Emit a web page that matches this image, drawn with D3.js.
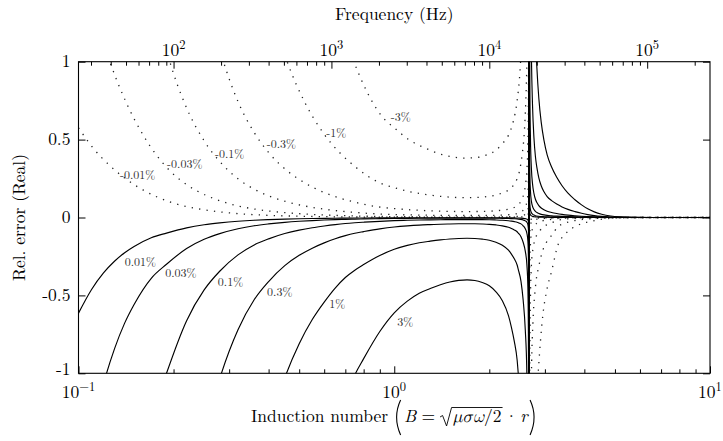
<!DOCTYPE html>
<html><head><meta charset="utf-8">
<script src="https://cdn.jsdelivr.net/npm/d3@7"></script>
<style>
body{margin:0;background:#fff;}
svg{display:block;background:#fff;}
text{font-family:"Latin Modern Roman","Times New Roman",serif;fill:#000;}
</style>
</head><body>
<svg id="chart" width="723" height="441"></svg>
<script>
// ---------- DATA ----------
// induction number B samples for the solid (positive error level) curves
const bSolid = [0.1,0.11,0.12,0.13,0.14,0.15,0.17,0.19,0.22,0.25,0.28,0.32,0.36,0.40,0.45,0.50,0.55,0.60,0.65,0.70,0.75,0.80,0.90,1.0,1.1,1.2,1.3,1.4,1.5,1.6,1.7,1.8,1.9,2.0,2.1,2.2,2.3,2.35,2.4,2.45,2.47,2.52,2.56,2.60,2.63,2.65,2.66,2.665,2.668,2.6695,
  2.6705,2.672,2.675,2.68,2.69,2.70,2.72,2.74,2.77,2.80,2.83,2.87,2.92,2.98,3.05,3.15,3.27,3.40,3.55,3.735,3.92,4.10,4.30,4.54,4.85,5.2,5.7,6.5,8.0,10];
const solid001 = [-0.614,-0.462,-0.356,-0.281,-0.226,-0.186,-0.13,-0.1,-0.0662,-0.0465,-0.0345,-0.024,-0.0176,-0.0137,-0.0103,-0.0081,-0.0066,-0.0054,-0.0045,-0.0039,-0.0034,-0.003,-0.0024,-0.002,-0.0018,-0.0016,-0.0015,-0.0014,-0.0014,-0.0013,-0.0013,-0.0013,-0.0014,-0.0015,-0.0016,-0.0018,-0.0021,-0.0024,-0.0027,-0.0031,-0.0033,-0.0041,-0.0053,-0.0072,-0.01,-0.015,-0.025,-0.05,-0.15,-1.5,
  1.5,0.255,0.102,0.051,0.0255,0.017,0.0102,0.0073,0.0051,0.0039,0.0032,0.0026,0.002,0.0017,0.0013,0.0011,0.0009,0.0007,0.0005,0.0004,0.0003,0.0002,0.0001,0.0001,0,0,0,0,0,0];
const solid003 = [-1.842,-1.386,-1.068,-0.843,-0.678,-0.558,-0.39,-0.3,-0.199,-0.14,-0.1035,-0.072,-0.0528,-0.0411,-0.0309,-0.0243,-0.0197,-0.0163,-0.0136,-0.0116,-0.0101,-0.0091,-0.0073,-0.0061,-0.0054,-0.0049,-0.0046,-0.0043,-0.0041,-0.004,-0.004,-0.004,-0.0042,-0.0044,-0.0048,-0.0053,-0.0063,-0.0071,-0.008,-0.0092,-0.01,-0.0123,-0.0159,-0.0216,-0.03,-0.045,-0.075,-0.15,-0.45,-4.5,
  4.5,0.765,0.306,0.153,0.0765,0.051,0.0306,0.0219,0.0153,0.0117,0.0096,0.0077,0.0061,0.005,0.004,0.0032,0.0026,0.002,0.0016,0.0011,0.0008,0.0006,0.0004,0.0002,0.0001,0,0,0,0,0];
const solid01 = [-6.14,-4.62,-3.56,-2.81,-2.26,-1.86,-1.3,-1.0,-0.662,-0.465,-0.345,-0.24,-0.176,-0.137,-0.103,-0.081,-0.0655,-0.0543,-0.0453,-0.0385,-0.0338,-0.0302,-0.0244,-0.0204,-0.0179,-0.0162,-0.0152,-0.0144,-0.0138,-0.0135,-0.0134,-0.0135,-0.0139,-0.0146,-0.0159,-0.0178,-0.021,-0.0235,-0.0265,-0.0305,-0.0333,-0.041,-0.053,-0.072,-0.1,-0.15,-0.25,-0.5,-1.5,-15,
  15,2.55,1.02,0.51,0.255,0.17,0.102,0.073,0.051,0.039,0.032,0.0255,0.0204,0.0165,0.0134,0.0108,0.0086,0.0068,0.0052,0.0038,0.0027,0.0019,0.0012,0.0007,0.0003,0.0001,0,0,0,0];
const solid03 = [-18.4,-13.9,-10.7,-8.43,-6.78,-5.58,-3.9,-3.0,-1.99,-1.4,-1.035,-0.72,-0.528,-0.411,-0.309,-0.243,-0.197,-0.163,-0.136,-0.116,-0.101,-0.0906,-0.0732,-0.0612,-0.0537,-0.0486,-0.0456,-0.0432,-0.0414,-0.0404,-0.04,-0.0404,-0.0417,-0.0438,-0.0477,-0.0534,-0.063,-0.0705,-0.0795,-0.0915,-0.1,-0.123,-0.159,-0.216,-0.3,-0.45,-0.75,-1.5,-4.5,-45,
  45,7.65,3.06,1.53,0.765,0.51,0.306,0.219,0.153,0.117,0.096,0.0765,0.0612,0.0495,0.0402,0.0324,0.0258,0.0204,0.0156,0.0114,0.0081,0.0056,0.0036,0.0021,0.001,0.0004,0.0001,0,0,0];
const solid1 = [-61.4,-46.2,-35.6,-28.1,-22.6,-18.6,-13,-10,-6.62,-4.65,-3.45,-2.4,-1.76,-1.37,-1.03,-0.81,-0.655,-0.543,-0.453,-0.385,-0.338,-0.302,-0.244,-0.204,-0.179,-0.162,-0.152,-0.144,-0.138,-0.1345,-0.1335,-0.1345,-0.139,-0.146,-0.159,-0.178,-0.21,-0.235,-0.265,-0.305,-0.333,-0.41,-0.53,-0.72,-1.0,-1.5,-2.5,-5,-15,-150,
  150,25.5,10.2,5.1,2.55,1.7,1.02,0.73,0.51,0.39,0.32,0.255,0.204,0.165,0.134,0.108,0.086,0.068,0.052,0.038,0.027,0.0185,0.012,0.007,0.0033,0.0014,0.0004,0.0001,0,0];
const solid3 = [-184,-139,-107,-84.3,-67.8,-55.8,-39,-30,-19.9,-14,-10.4,-7.2,-5.28,-4.11,-3.09,-2.43,-1.97,-1.63,-1.36,-1.16,-1.01,-0.906,-0.732,-0.612,-0.537,-0.486,-0.456,-0.432,-0.414,-0.404,-0.4,-0.404,-0.417,-0.438,-0.477,-0.534,-0.63,-0.705,-0.795,-0.915,-1.0,-1.23,-1.59,-2.16,-3,-4.5,-7.5,-15,-45,-450,
  450,76.5,30.6,15.3,7.65,5.1,3.06,2.19,1.53,1.17,0.96,0.765,0.612,0.495,0.402,0.324,0.258,0.204,0.156,0.114,0.081,0.0555,0.036,0.021,0.0099,0.0042,0.0012,0.0002,0,0];

// induction number B samples for the dotted (negative error level) curves
const bDotted = [0.1,0.11,0.126,0.14,0.16,0.194,0.22,0.25,0.287,0.32,0.36,0.40,0.458,0.52,0.60,0.68,0.746,0.818,0.923,1.0,1.121,1.25,1.395,1.52,1.654,1.80,1.962,2.10,2.20,2.30,2.381,2.45,2.50,2.54,2.58,2.61,2.63,2.65,2.66,2.665,2.668,2.6695,
  2.6705,2.672,2.675,2.68,2.69,2.70,2.72,2.75,2.79,2.83,2.856,2.90,2.96,3.036,3.15,3.303,3.45,3.556,3.75,3.95,4.21,4.5,4.9,5.4,6.2,8,10];
const dotted001 = [0.576,0.458,0.331,0.2535,0.177,0.101,0.0703,0.0492,0.0336,0.0248,0.0182,0.0139,0.01,0.0074,0.0053,0.0041,0.0033,0.0027,0.0021,0.0019,0.0017,0.0015,0.0014,0.0013,0.0013,0.0013,0.0013,0.0014,0.0016,0.0018,0.0021,0.0025,0.0031,0.004,0.0054,0.0075,0.01,0.016,0.026,0.052,0.15,1.5,
  -1.5,-0.255,-0.102,-0.051,-0.0255,-0.017,-0.01,-0.0067,-0.0048,-0.0037,-0.0033,-0.0027,-0.0021,-0.0016,-0.0012,-0.0006,-0.0004,-0.0003,-0.0002,-0.0001,-0.0001,0,0,0,0,0,0];
const dotted003 = [1.728,1.374,0.993,0.7605,0.531,0.303,0.211,0.1476,0.1008,0.0744,0.0546,0.0417,0.03,0.0223,0.016,0.0122,0.01,0.0081,0.0064,0.0058,0.005,0.0045,0.0041,0.0039,0.0038,0.0038,0.004,0.0043,0.0047,0.0053,0.0062,0.0075,0.0093,0.012,0.0162,0.0225,0.03,0.048,0.078,0.156,0.45,4.5,
  -4.5,-0.765,-0.306,-0.153,-0.0765,-0.051,-0.03,-0.0201,-0.0144,-0.0111,-0.01,-0.0081,-0.0062,-0.0047,-0.0035,-0.0017,-0.0011,-0.0009,-0.0006,-0.0004,-0.0002,-0.0001,0,0,0,0,0];
const dotted01 = [5.76,4.58,3.31,2.535,1.77,1.01,0.703,0.492,0.336,0.248,0.182,0.139,0.1,0.0742,0.0534,0.0405,0.0332,0.027,0.0213,0.0192,0.0165,0.0149,0.0136,0.013,0.0127,0.0128,0.0134,0.0144,0.0158,0.0176,0.0205,0.025,0.031,0.04,0.054,0.075,0.1,0.16,0.26,0.52,1.5,15,
  -15,-2.55,-1.02,-0.51,-0.255,-0.17,-0.1,-0.067,-0.048,-0.037,-0.0333,-0.027,-0.0205,-0.0158,-0.0115,-0.0058,-0.0038,-0.0029,-0.0019,-0.0013,-0.0008,-0.0004,-0.0002,-0.0001,0,0,0];
const dotted03 = [17.3,13.7,9.93,7.6,5.31,3.03,2.11,1.476,1.008,0.744,0.546,0.417,0.3,0.223,0.16,0.1215,0.0996,0.081,0.0639,0.0576,0.0495,0.0447,0.0408,0.039,0.0381,0.0384,0.0402,0.0432,0.0474,0.0528,0.0615,0.075,0.093,0.12,0.162,0.225,0.3,0.48,0.78,1.56,4.5,45,
  -45,-7.65,-3.06,-1.53,-0.765,-0.51,-0.3,-0.201,-0.144,-0.111,-0.1,-0.081,-0.0615,-0.0474,-0.0345,-0.0174,-0.0114,-0.0087,-0.0057,-0.0038,-0.0024,-0.0012,-0.0005,-0.0002,0,0,0];
const dotted1 = [57.6,45.8,33.1,25.35,17.7,10.1,7.03,4.92,3.36,2.48,1.82,1.39,1.0,0.742,0.534,0.405,0.332,0.27,0.213,0.192,0.165,0.149,0.136,0.13,0.127,0.128,0.134,0.144,0.158,0.176,0.205,0.25,0.31,0.4,0.54,0.75,1.0,1.6,2.6,5.2,15,150,
  -150,-25.5,-10.2,-5.1,-2.55,-1.7,-1.0,-0.67,-0.48,-0.37,-0.333,-0.27,-0.205,-0.158,-0.115,-0.058,-0.038,-0.029,-0.019,-0.0125,-0.008,-0.004,-0.0015,-0.0005,-0.0001,0,0];
const dotted3 = [172.8,137.4,99.3,76.05,53.1,30.3,21.1,14.76,10.08,7.44,5.46,4.17,3.0,2.226,1.602,1.215,0.996,0.81,0.639,0.576,0.495,0.447,0.408,0.39,0.381,0.384,0.402,0.432,0.474,0.528,0.615,0.75,0.93,1.2,1.62,2.25,3.0,4.8,7.8,15.6,45,450,
  -450,-76.5,-30.6,-15.3,-7.65,-5.1,-3.0,-2.01,-1.44,-1.11,-0.999,-0.81,-0.615,-0.474,-0.345,-0.174,-0.114,-0.087,-0.057,-0.0375,-0.024,-0.012,-0.0045,-0.0015,-0.0004,0,0];

// curve labels and where they sit (data units)
const solidLabels = ["0.01%","0.03%","0.1%","0.3%","1%","3%"];
const solidLabelB = [0.157,0.211,0.303,0.434,0.66,1.083];
const solidLabelY = [-0.285,-0.359,-0.413,-0.476,-0.554,-0.67];
const dottedLabels = ["-0.01%","-0.03%","-0.1%","-0.3%","-1%","-3%"];
const dottedLabelB = [0.154,0.217,0.301,0.439,0.655,1.049];
const dottedLabelY = [0.272,0.346,0.41,0.469,0.542,0.644];

// axes
const bDomain = [0.1, 10];
const yDomain = [-1, 1];
const freqDomain = [25, 250000];          // top axis: f = 2500 * B^2
const bMajor = [0.1, 1, 10];
const bMajorExp = ["\u22121", "0", "1"];
const bMinor = [0.2,0.3,0.4,0.5,0.6,0.7,0.8,0.9,2,3,4,5,6,7,8,9];
const fMajor = [1e2, 1e3, 1e4, 1e5];
const fMajorExp = ["2","3","4","5"];
const fMinor = [30,40,50,60,70,80,90,200,300,400,500,600,700,800,900,2000,3000,4000,5000,6000,7000,8000,9000,20000,30000,40000,50000,60000,70000,80000,90000,200000];
const yTicks = [-1, -0.5, 0, 0.5, 1];
const yTickLabels = ["-1", "-0.5", "0", "0.5", "1"];

// ---------- DRAW ----------
const svg = d3.select("#chart");
const L = 78.5, R = 710, T = 61.7, B = 373.3;
const FS = 17.5;
const x = d3.scaleLog().domain(bDomain).range([L, R]);
const xf = d3.scaleLog().domain(freqDomain).range([L, R]);
const y = d3.scaleLinear().domain(yDomain).range([B, T]);

svg.append("defs").append("clipPath").attr("id","plotclip")
  .append("rect").attr("x", L).attr("y", T).attr("width", R - L).attr("height", B - T);

const plot = svg.append("g").attr("clip-path","url(#plotclip)");

function drawSeries(bArr, vals, dotted) {
  const line = d3.line()
    .x((d, i) => x(bArr[i]))
    .y(d => y(d))
    .curve(d3.curveMonotoneX);
  const p = plot.append("path").datum(vals)
    .attr("d", line)
    .attr("fill","none");
  if (dotted) {
    p.attr("stroke","#222").attr("stroke-width",1.3).attr("stroke-dasharray","1.3 6.2");
  } else {
    p.attr("stroke","#000").attr("stroke-width",1.15);
  }
}
[dotted001, dotted003, dotted01, dotted03, dotted1, dotted3].forEach(v => drawSeries(bDotted, v, true));
[solid001, solid003, solid01, solid03, solid1, solid3].forEach(v => drawSeries(bSolid, v, false));

// curve labels
const lab = svg.append("g").attr("font-size", 12);
solidLabels.forEach((t, i) => {
  lab.append("text").attr("x", x(solidLabelB[i])).attr("y", y(solidLabelY[i]))
    .attr("dy","0.33em").attr("text-anchor","middle").style("fill","#333").text(t);
});
dottedLabels.forEach((t, i) => {
  lab.append("text").attr("x", x(dottedLabelB[i])).attr("y", y(dottedLabelY[i]))
    .attr("dy","0.33em").attr("text-anchor","middle").style("fill","#333").text(t);
});

// frame
svg.append("rect").attr("x", L).attr("y", T).attr("width", R - L).attr("height", B - T)
  .attr("fill","none").attr("stroke","#000").attr("stroke-width",1.1);

const noDomain = g => g.select(".domain").remove();
svg.append("g").attr("transform",`translate(0,${B})`)
  .call(d3.axisBottom(x).tickValues(bMajor).tickSize(-7).tickFormat("")).call(noDomain);
svg.append("g").attr("transform",`translate(0,${B})`)
  .call(d3.axisBottom(x).tickValues(bMinor).tickSize(-4).tickFormat("")).call(noDomain);
svg.append("g").attr("transform",`translate(0,${T})`)
  .call(d3.axisTop(xf).tickValues(fMajor).tickSize(-7).tickFormat("")).call(noDomain);
svg.append("g").attr("transform",`translate(0,${T})`)
  .call(d3.axisTop(xf).tickValues(fMinor).tickSize(-4).tickFormat("")).call(noDomain);
svg.append("g").attr("transform",`translate(${L},0)`)
  .call(d3.axisLeft(y).tickValues(yTicks).tickSize(-7).tickFormat("")).call(noDomain);
svg.append("g").attr("transform",`translate(${R},0)`)
  .call(d3.axisRight(y).tickValues(yTicks).tickSize(-7).tickFormat("")).call(noDomain);
svg.selectAll(".tick line").attr("stroke","#000");

// tick labels
function supLabel(xpos, ypos, base, exp) {
  const t = svg.append("text").attr("x", xpos).attr("y", ypos)
    .attr("text-anchor","middle").attr("font-size",FS);
  t.append("tspan").text(base);
  t.append("tspan").attr("dy", -7).attr("font-size", 12.5).text(exp);
}
bMajor.forEach((v, i) => supLabel(x(v), 397.5, "10", bMajorExp[i]));
fMajor.forEach((v, i) => supLabel(xf(v), 56, "10", fMajorExp[i]));
yTicks.forEach((v, i) => {
  // the lowest label is nudged up slightly so it clears the 10^-1 label below it
  svg.append("text").attr("x", L - 8).attr("y", y(v)).attr("dy", v === yDomain[0] ? "0.08em" : "0.33em")
    .attr("text-anchor","end").attr("font-size",FS).text(yTickLabels[i]);
});

// titles
svg.append("text").attr("x", (L + R) / 2).attr("y", 20).attr("text-anchor","middle")
  .attr("font-size",FS).text("Frequency (Hz)");
svg.append("text").attr("transform",`translate(25,${(T + B) / 2}) rotate(-90)`)
  .attr("text-anchor","middle").attr("font-size",FS).text("Rel. error (Real)");

// x title with math (big delimiters and radical drawn as strokes)
(function() {
  const g = svg.append("g");
  let cx = 0;
  function add(txt, o) {
    o = o || {};
    const t = g.append("text").attr("x", cx).attr("y", 0).attr("font-size", o.size || FS).text(txt);
    if (o.italic) t.attr("font-style","italic");
    if (o.family) t.style("font-family", o.family);
    const w = t.node().getComputedTextLength();
    const x0 = cx;
    cx += w + (o.after || 0);
    return {x0: x0, x1: x0 + w};
  }
  function paren(open) {
    const x0 = cx;
    const d = open
      ? `M${x0 + 6.5},-22 Q${x0 - 1.5},-5 ${x0 + 6.5},13`
      : `M${x0 + 0.5},-22 Q${x0 + 8.5},-5 ${x0 + 0.5},13`;
    g.append("path").attr("d", d).attr("fill","none").attr("stroke","#000").attr("stroke-width",1.1);
    cx += 8;
  }
  add("Induction number", {after: 6});
  paren(true);
  cx += 2;
  add("B", {italic: true, after: 5});
  add("=", {after: 5});
  const sx = cx;
  cx += 13;
  add("\u03bc\u03c3\u03c9", {italic: true, family: '"Latin Modern Math","Latin Modern Roman",serif'});
  const rad2 = add("/2", {after: 3});
  g.append("path")
    .attr("d", `M${sx},-5 L${sx + 2.5},-6.5 L${sx + 6.5},4 L${sx + 11.5},-14.5 L${rad2.x1 + 1},-14.5`)
    .attr("fill","none").attr("stroke","#000").attr("stroke-width",0.9);
  add("\u00b7", {after: 2});
  add("r", {italic: true, after: 2});
  paren(false);
  g.attr("transform", `translate(${(L + R) / 2 - cx / 2},422)`);
})();
</script>
</body></html>
